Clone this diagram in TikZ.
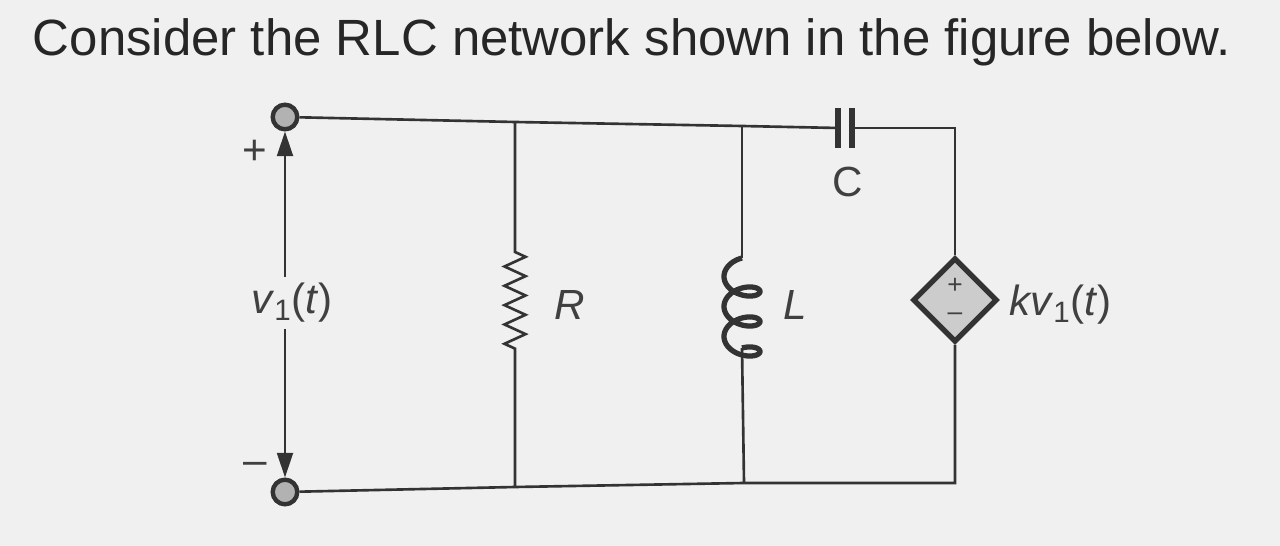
\documentclass[tikz,border=0pt]{standalone}
\usepackage{fontspec}
\setmainfont{Liberation Sans}
\usetikzlibrary{decorations.pathmorphing,arrows.meta,shapes.geometric}
\tikzset{
    wire/.style={line width=1.5pt,color=black!80},
    terminal/.style={circle,draw=black!80,line width=2.5pt,fill=black!30,minimum size=14pt,inner sep=0pt},
    depsrc/.style={diamond,draw=black!80,line width=3pt,fill=black!20,minimum size=48pt,inner sep=0pt},
    lbl/.style={font=\fontsize{24}{28}\selectfont,text=black!75}
}
\newcommand{\vone}{\textit{v}\textsubscript{1}(\textit{t})}
\begin{document}
\begin{tikzpicture}[x=0.02cm,y=-0.02cm]
	\useasboundingbox[fill=black!6] (0,0) rectangle (1280,546);
	\node(title) at (632,42) [font=\fontsize{29}{34}\selectfont,text=black!85] {Consider the RLC network shown in the figure below.};
	
	% terminals
	\node(ttop) at (285,117) [terminal] {};
	\node(tbot) at (285,492) [terminal] {};
	
	% wires and components
	\coordinate(rtop) at (515,122);
	\coordinate(rbot) at (515,487);
	\coordinate(ltop) at (742,126);
	\coordinate(lbot) at (744,483);
	\coordinate(cleft) at (838,128);
	\coordinate(cright) at (852,128);
	\node(src) at (955,300) [depsrc] {};
	\node(srcplus) at (955,286) [font=\fontsize{15}{15}\selectfont,text=black!75,inner sep=0pt] {+};
	\node(srcminus) at (955,317) [font=\fontsize{15}{15}\selectfont,text=black!75,inner sep=0pt] {\textendash};
	
	\draw[wire] (ttop) -- (rtop) -- (ltop) -- (cleft);
	\draw[wire] (cright) -| (src.north);
	\draw[wire] (src.south) |- (lbot) -- (rbot) -- (tbot);
	\draw[line width=3pt,color=black!80] (cleft) ++(0,-20) -- ++(0,40);
	\draw[line width=3pt,color=black!80] (cright) ++(0,-20) -- ++(0,40);
	\node(clabel) at (848,182) [lbl] {C};
	
	% resistor
	\draw[wire] (rtop) -- (515,252)
		decorate[decoration={zigzag,amplitude=6pt,segment length=11pt}] {-- (515,350)}
		-- (rbot);
	\node(rlabel) at (570,305) [lbl] {\itshape R};
	
	% inductor
	\draw[wire] (ltop) -- (742,258);
	\draw[line width=3pt,color=black!80] plot[domain=90:1170,samples=200,smooth]
		({742+18*cos(\x)},{258+(\x-90)/12+11-11*sin(\x)});
	\draw[wire] (742,348) -- (lbot);
	\node(llabel) at (795,305) [lbl] {\itshape L};
	
	% voltage v1
	\node(vlabel) at (292,303) [lbl] {\vone};
	\draw[wire,-{Triangle[length=14pt,width=9pt]}] (vlabel.north -| ttop) -- (ttop.south);
	\draw[wire,-{Triangle[length=14pt,width=9pt]}] (vlabel.south -| ttop) -- (tbot.north);
	\node(plus) at (255,152) [lbl] {+};
	\node(minus) at (255,468) [lbl] {\textendash};
	\node(klabel) at (1003,305) [lbl,anchor=west] {\textit{kv}\textsubscript{1}(\textit{t})};
\end{tikzpicture}
\end{document}
